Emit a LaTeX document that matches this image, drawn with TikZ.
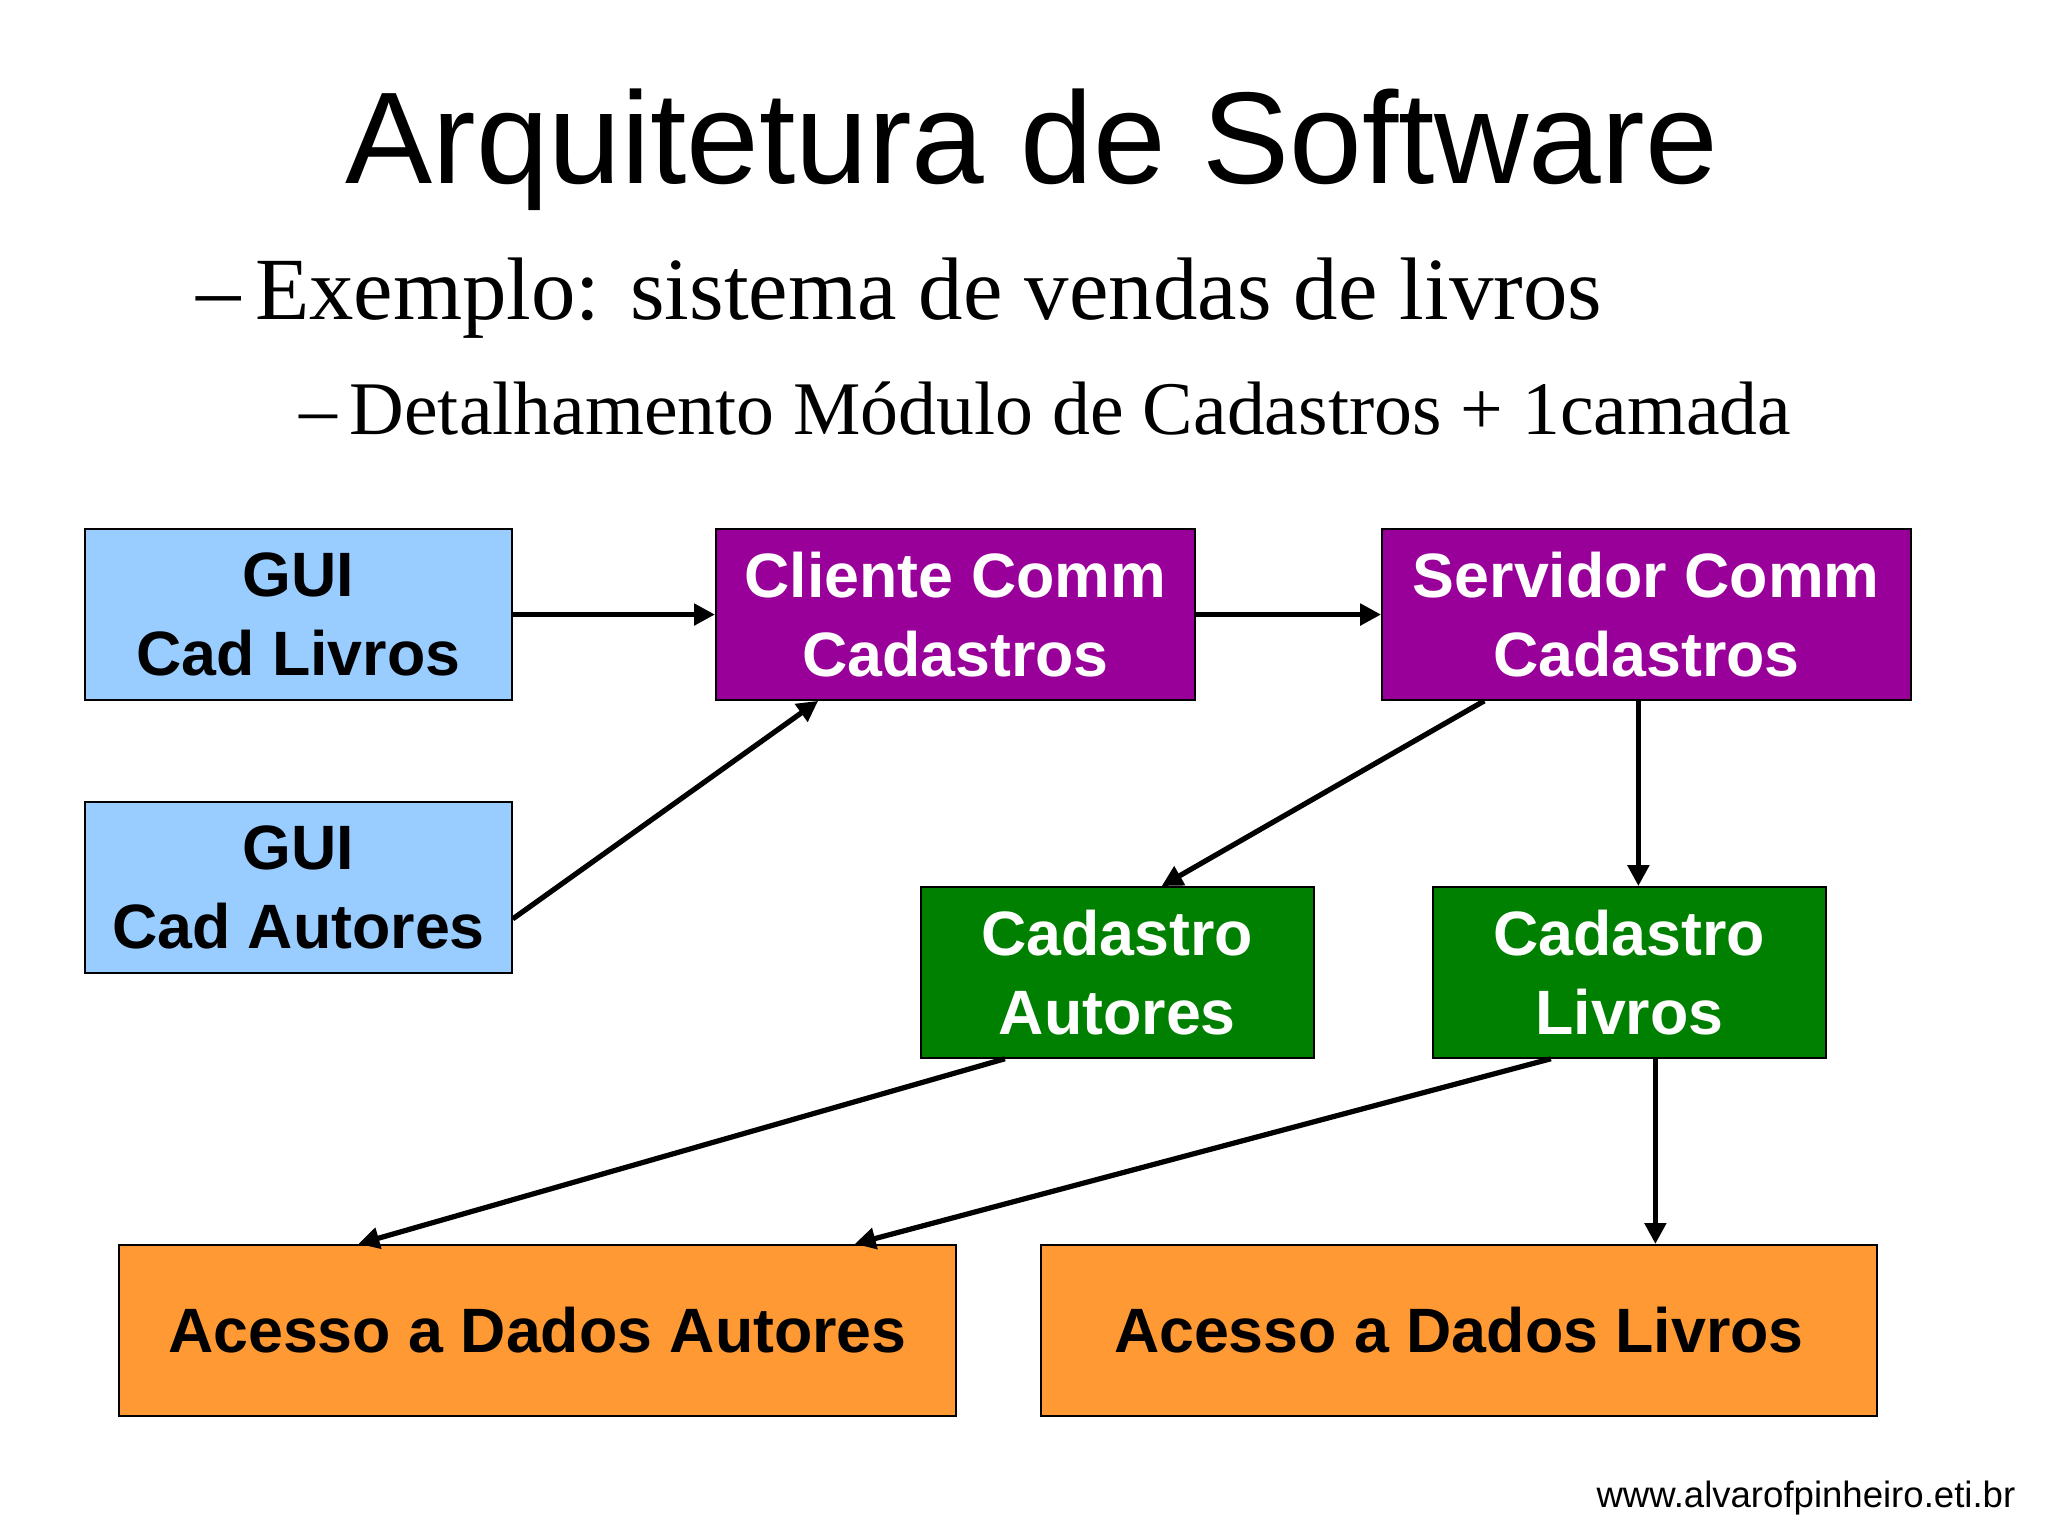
\documentclass[tikz,border=0pt]{standalone}
\usepackage{fontspec}
\setmainfont{Liberation Serif}
\setsansfont{Liberation Sans}
\usetikzlibrary{arrows.meta}
\begin{document}
\begin{tikzpicture}[x=0.5pt,y=-0.5pt,
  box/.style={draw=black,line width=0.6pt,inner sep=0pt,align=center,font=\sffamily\bfseries\fontsize{24}{30}\selectfont},
  gui/.style={box,fill=blue!40!white,fill={rgb,255:red,153;green,204;blue,255}},
  comm/.style={box,fill={rgb,255:red,153;green,0;blue,153},text=white},
  cad/.style={box,fill={rgb,255:red,0;green,128;blue,0},text=white},
  acc/.style={box,fill={rgb,255:red,255;green,153;blue,51}},
  arr/.style={line width=2pt,-{Triangle[length=8pt,width=8pt]}}]
\useasboundingbox (0,0) rectangle (1568,1176);
\fill[white] (0,0) rectangle (1568,1176);
\node[font=\sffamily\fontsize{50}{60}\selectfont] (title) at (790,115) {Arquitetura de Software};
\node[anchor=west,font=\fontsize{34}{40}\selectfont] (l1) at (143,228) {–\,Exemplo: sistema de vendas de livros};
\node[anchor=west,font=\fontsize{29}{35}\selectfont] (l2) at (222,313) {–\,Detalhamento Módulo de Cadastros + 1camada};
\node[gui,minimum width=163.5pt,minimum height=65.5pt] (gl) at (228.5,470.5) {GUI\\Cad Livros};
\node[gui,minimum width=163.5pt,minimum height=65.5pt] (ga) at (228.5,679.5) {GUI\\Cad Autores};
\node[comm,minimum width=183.5pt,minimum height=65.5pt] (cc) at (731.5,470.5) {Cliente Comm\\Cadastros};
\node[comm,minimum width=202.5pt,minimum height=65.5pt] (sc) at (1260.5,470.5) {Servidor Comm\\Cadastros};
\node[cad,minimum width=150.5pt,minimum height=65.5pt] (ca) at (855.5,744.5) {Cadastro\\Autores};
\node[cad,minimum width=150.5pt,minimum height=65.5pt] (cl) at (1247.5,744.5) {Cadastro\\Livros};
\node[acc,minimum width=320.5pt,minimum height=65.5pt] (aa) at (411.5,1018.5) {Acesso a Dados Autores};
\node[acc,minimum width=320pt,minimum height=65.5pt] (al) at (1117,1018.5) {Acesso a Dados Livros};
\node[anchor=east,font=\sffamily\fontsize{14}{16}\selectfont] (url) at (1550,1147) {www.alvarofpinheiro.eti.br};
\draw[arr] (gl.east) -- (cc.west);
\draw[arr] ([yshift=-12pt]ga.east) -- ([xshift=39.5pt]cc.south west);
\draw[arr] (cc.east) -- (sc.west);
\draw[arr] ([xshift=39.5pt]sc.south west) -- ([xshift=92.5pt]ca.north west);
\draw[arr] ([xshift=98.5pt]sc.south west) -- ([xshift=79pt]cl.north west);
\draw[arr] ([xshift=32.5pt]ca.south west) -- ([xshift=92pt]aa.north west);
\draw[arr] ([xshift=45.5pt]cl.south west) -- ([xshift=282pt]aa.north west);
\draw[arr] ([xshift=85.5pt]cl.south west) -- ([xshift=235.5pt]al.north west);
\end{tikzpicture}
\end{document}
